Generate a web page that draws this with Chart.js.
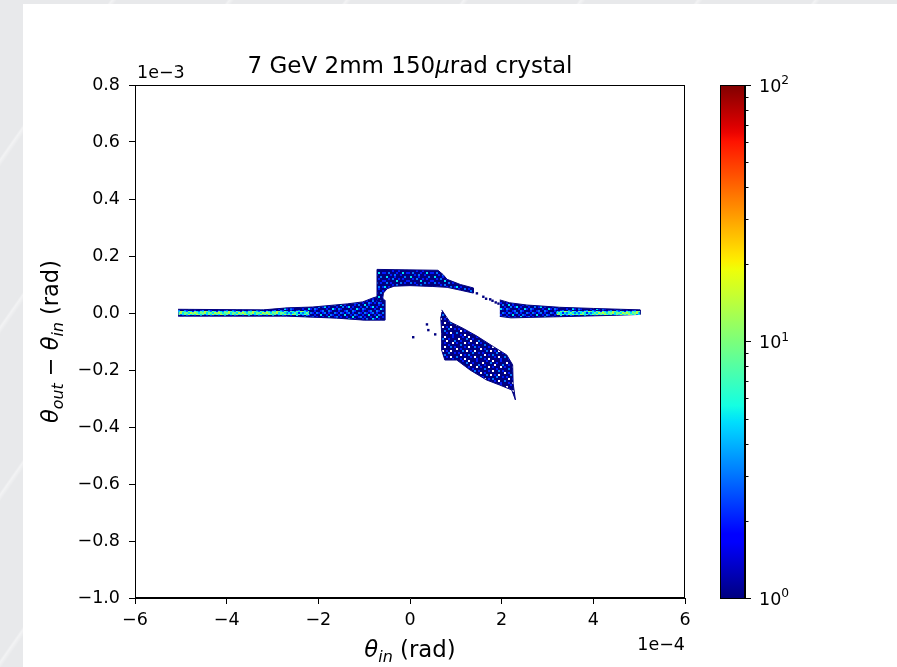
<!DOCTYPE html>
<html><head><meta charset="utf-8">
<script src="https://cdn.jsdelivr.net/npm/chart.js@4.4.1/dist/chart.umd.min.js"></script>
<style>
html,body{margin:0;padding:0;width:897px;height:667px;overflow:hidden;
  background:#e8e9eb repeating-linear-gradient(125deg, rgba(255,255,255,0) 0px, rgba(255,255,255,0) 90px, rgba(255,255,255,0.45) 92px, rgba(255,255,255,0) 96px);}
#paper{position:absolute;left:23px;top:4px;width:874px;height:663px;background:#fff;}
canvas{position:absolute;left:0;top:0;}
</style></head><body>
<div id="paper"></div>
<canvas id="main" width="897" height="667"></canvas>
<canvas id="cbar" width="897" height="667"></canvas>
<script>
// ---- axis ticks (x in units of 1e-4 rad, y in units of 1e-3 rad) ----
const xTicks = [-6, -4, -2, 0, 2, 4, 6];
const yTicks = [-1.0, -0.8, -0.6, -0.4, -0.2, 0.0, 0.2, 0.4, 0.6, 0.8];
const cbarTicks = [1, 10, 100];
const cbarExponents = ['0', '1', '2'];
const cbarMinor = [2,3,4,5,6,7,8,9,20,30,40,50,60,70,80,90];

// ---- occupied regions of the 2D histogram (outline points) ----
// left band (amorphous, theta_in < 0)
const leftBandX = [-5.06, -3.20, -2.68, -2.12, -1.37, -1.03, -0.81, -0.66, -0.55, -0.55, -1.00, -1.60, -2.70, -5.06];
const leftBandY = [ 0.013, 0.011, 0.018, 0.021, 0.032, 0.039, 0.053, 0.060, 0.045, -0.025, -0.025, -0.018, -0.011, -0.011];
// channeled block + left strip + tail towards the right band
const humpX = [-0.72, -0.72, 0.61, 0.72, 0.81, 1.10, 1.38, 1.38, 1.10, 0.81, 0.50, 0.00, -0.35, -0.50, -0.58, -0.60, -0.66];
const humpY = [ 0.040, 0.153, 0.150, 0.135, 0.118, 0.100, 0.088, 0.070, 0.080, 0.090, 0.093, 0.096, 0.094, 0.085, 0.070, 0.045, 0.040];
// right band (amorphous, theta_in > 0)
const rightBandX = [1.96, 2.17, 2.55, 3.27, 4.00, 5.02, 5.02, 4.50, 3.27, 2.20, 1.96];
const rightBandY = [0.046, 0.036, 0.028, 0.020, 0.016, 0.011, -0.005, -0.008, -0.013, -0.017, -0.012];
// blob below (theta_in 0.7 .. 2.3)
const blobX = [0.69, 0.87, 1.16, 1.46, 1.82, 2.11, 2.24, 2.25, 2.30, 2.22, 1.96, 1.67, 1.31, 1.02, 0.76, 0.69, 0.69, 0.67];
const blobY = [0.011, -0.031, -0.054, -0.081, -0.118, -0.147, -0.182, -0.247, -0.305, -0.270, -0.253, -0.235, -0.200, -0.165, -0.165, -0.130, -0.071, -0.013];
// dense ridges (higher counts) along theta_out - theta_in = 0
const ridgeLeftX = [-5.05, -2.2];
const ridgeLeftY = [0.0, 0.0];
const coreLeftX = [-5.05, -2.7];
const coreLeftY = [0.0, 0.0];
const ridgeRightX = [3.2, 5.02];
const ridgeRightY = [0.0, 0.0];
const coreRightX = [4.1, 5.0];
const coreRightY = [0.0, 0.0];
// isolated single-count bins
const dotsX = [0.07, 0.37, 0.40, 0.55, 1.46, 1.60, 1.66, 1.75, 1.80, 1.87, 1.93];
const dotsY = [-0.085, -0.040, -0.060, -0.075, 0.069, 0.057, 0.050, 0.048, 0.043, 0.037, 0.033];

const zip = (xs, ys) => xs.map((x, i) => ({x, y: ys[i]}));
const FONT = '"DejaVu Sans", "Liberation Sans", sans-serif';

// jet colormap (style only)
function jet(t){
  const seg = (pts) => { for (let i=1;i<pts.length;i++){ if (t<=pts[i][0]) { const [a,va]=pts[i-1],[b,vb]=pts[i]; return va+(vb-va)*(t-a)/(b-a);} } return pts[pts.length-1][1]; };
  const r = seg([[0,0],[0.35,0],[0.66,1],[0.89,1],[1,0.5]]);
  const g = seg([[0,0],[0.125,0],[0.375,1],[0.64,1],[0.91,0],[1,0]]);
  const b = seg([[0,0.5],[0.11,1],[0.34,1],[0.65,0],[1,0]]);
  return `rgb(${Math.round(r*255)},${Math.round(g*255)},${Math.round(b*255)})`;
}
const cnt = c => jet(Math.log10(c)/2);

// fill textures imitating the histogram's bin speckle (styling only)
const PAL = { N: cnt(1), B: cnt(2), L: cnt(3), C: cnt(5), G: cnt(9), Y: cnt(14), W: 'rgba(255,255,255,0)' };
function texture(rows, cell){
  const c = document.createElement('canvas');
  c.width = rows[0].length * cell; c.height = rows.length * cell;
  const g = c.getContext('2d');
  rows.forEach((r, j) => [...r].forEach((ch, i) => { g.fillStyle = PAL[ch]; g.fillRect(i*cell, j*cell, cell, cell); }));
  return g.createPattern(c, 'repeat');
}
const blobTex = texture([
  "NNNBNNWNNNBN","NWNNNLNNBNNN","NNBNNNNWNNNL","BNNNWNBNNNWN","NNLNNNNNBNNN","NNNNBNWNNLNB",
  "WNBNNNNNNNNN","NNNLNWNBNWNN","NBNNNNNNLNNB","NNWNBNLNNNNN","LNNNNNNBNWNN","NNBNWNNNNNBN"], 2);
const blockTex = texture([
  "NBNNLNBNNBNN","NNBNNNNLNNNB","LNNBNCNNBNLN","NNNNBNNBNNNN","BNLNNNBNNCNB","NNNBNLNNBNNN",
  "NCNNNBNNNNLN","NNBNLNNBNBNN","BNNNNNCNNNNB","NLNBNNNNLNBN","NNNNBNLNNNNN","CNBNNNNBNLNB"], 2);
const bandTex = texture([
  "BNLBNBLNBNNL","NBNNCNNBNLBN","LNBNNBNNCNNB","NBNLNNCBNBNN","BNNBNLNNBNLN","NLBNBNBNNCNB",
  "CNNBNNLNBNNN","NBNNLBNBNLBN","NNCNBNNNNBNL","BNNLNBCNBNNN","NLBNNNNBNNCB","NBNNBLNNLBNN"], 2);
const ridgeTex = texture(["CLCGCBCLCGCL","GCYGCGLCGCYC","LCGCLCGCYCLG","BGCLGCYGCLGC"], 2);
const coreTex = texture(["GYGCGGYCGGCY","YGCGYGGGCYGG"], 2);

function poly(xs, ys, fillStyle){
  return {type:'scatter', data: zip(xs, ys), showLine:true, fill:'shape', backgroundColor: fillStyle,
          borderColor: cnt(1), borderWidth: 1, pointRadius: 0, tension: 0};
}
function ridge(xs, ys, stroke, w){
  return {type:'scatter', data: zip(xs, ys), showLine:true, fill:false, borderColor: stroke,
          borderWidth: w, borderCapStyle:'butt', pointRadius: 0, tension: 0};
}

function drawParts(ctx, parts, x, y, align, size){
  const fonts = parts.map(p => `${p.italic ? 'italic ' : ''}${(p.sub || p.sup) ? size*0.7 : size}px ${FONT}`);
  let total = 0;
  const widths = parts.map((p,i) => { ctx.font = fonts[i]; const w = ctx.measureText(p.t).width; total += w; return w; });
  let cx = align === 'center' ? x - total/2 : (align === 'right' ? x - total : x);
  ctx.textAlign = 'left'; ctx.textBaseline = 'alphabetic'; ctx.fillStyle = '#000';
  parts.forEach((p,i) => {
    ctx.font = fonts[i];
    ctx.fillText(p.t, cx, y + (p.sub ? size*0.22 : 0) - (p.sup ? size*0.42 : 0));
    cx += widths[i];
  });
}

const decorPlugin = {
  id: 'decor',
  afterDraw(chart){
    const {ctx, chartArea: a} = chart;
    ctx.save();
    ctx.strokeStyle = '#000'; ctx.lineWidth = 1;
    ctx.strokeRect(a.left + 0.5, a.top + 0.5, a.right - a.left - 1, a.bottom - a.top - 1);
    const cxm = (a.left + a.right)/2;
    drawParts(ctx, [{t:'7 GeV 2mm 150'}, {t:'\u03BC', italic:true}, {t:'rad crystal'}], cxm, 73, 'center', 23);
    drawParts(ctx, [{t:'\u03B8', italic:true}, {t:'in', italic:true, sub:true}, {t:' (rad)'}], cxm, 657, 'center', 22.8);
    drawParts(ctx, [{t:'1e\u22123'}], a.left + 2, 78, 'left', 17.5);
    drawParts(ctx, [{t:'1e\u22124'}], a.right, 650, 'right', 17.5);
    ctx.translate(58, (a.top + a.bottom)/2);
    ctx.rotate(-Math.PI/2);
    drawParts(ctx, [{t:'\u03B8', italic:true}, {t:'out', italic:true, sub:true}, {t:' \u2212 '},
                    {t:'\u03B8', italic:true}, {t:'in', italic:true, sub:true}, {t:' (rad)'}], 0, 0, 'center', 22.5);
    ctx.restore();
  }
};

const fmt = (v, d) => { if (Math.abs(v) < 1e-9) v = 0; const s = Math.abs(v).toFixed(d); return v < 0 ? '\u2212' + s : s; };

new Chart(document.getElementById('main'), {
  type: 'scatter',
  data: { datasets: [
    // first in list = drawn on top
    {type:'scatter', data: zip(dotsX, dotsY), pointStyle:'rect', pointRadius:1.7, pointBorderWidth:0,
     backgroundColor: cnt(1), borderColor: cnt(1), showLine:false},
    ridge(coreLeftX, coreLeftY, coreTex, 2),
    ridge(coreRightX, coreRightY, coreTex, 2),
    ridge(ridgeLeftX, ridgeLeftY, ridgeTex, 4),
    ridge(ridgeRightX, ridgeRightY, ridgeTex, 4),
    poly(blobX, blobY, blobTex),
    poly(rightBandX, rightBandY, bandTex),
    poly(humpX, humpY, blockTex),
    poly(leftBandX, leftBandY, bandTex)
  ]},
  options: {
    responsive: false, animation: false,
    layout: { padding: { left: 0, right: 212, top: 85, bottom: 0 } },
    plugins: { legend: {display:false}, tooltip: {enabled:false}, title:{display:false} },
    scales: {
      x: { type:'linear', min:-6, max:6,
        afterBuildTicks: s => { s.ticks = xTicks.map(v => ({value:v})); },
        afterFit: s => { s.height = 69; s.paddingLeft = 0; s.paddingRight = 0; },
        grid: { drawOnChartArea:false, drawTicks:true, tickLength:6, color:'#000', tickWidth:1 },
        border: { display:true, color:'#000', width:1 },
        ticks: { color:'#000', font:{family:FONT, size:17.5}, padding:6, maxRotation:0, autoSkip:false,
                 callback: v => fmt(v, 0) } },
      y: { type:'linear', min:-1.0, max:0.8,
        afterBuildTicks: s => { s.ticks = yTicks.map(v => ({value:v})); },
        afterFit: s => { s.width = 135; s.paddingTop = 0; s.paddingBottom = 0; },
        grid: { drawOnChartArea:false, drawTicks:true, tickLength:6, color:'#000', tickWidth:1 },
        border: { display:true, color:'#000', width:1 },
        ticks: { color:'#000', font:{family:FONT, size:17.5}, padding:9, autoSkip:false,
                 callback: v => fmt(v, 1) } }
    }
  },
  plugins: [decorPlugin]
});

const cbarPlugin = {
  id: 'cbarDecor',
  afterDraw(chart){
    const {ctx, chartArea: a} = chart;
    const sc = chart.scales.y;
    ctx.save();
    ctx.strokeStyle = '#000'; ctx.lineWidth = 1;
    ctx.strokeRect(a.left + 0.5, a.top + 0.5, a.right - a.left - 1, a.bottom - a.top);
    ctx.beginPath();
    cbarMinor.forEach(v => { const y = Math.round(sc.getPixelForValue(v)) + 0.5; ctx.moveTo(a.right, y); ctx.lineTo(a.right + 3.5, y); });
    ctx.stroke();
    cbarTicks.forEach((v, i) => {
      const y = sc.getPixelForValue(v);
      drawParts(ctx, [{t:'10'}, {t:cbarExponents[i], sup:true}], a.right + 14, y + 6.5, 'left', 17.5);
    });
    ctx.restore();
  }
};

new Chart(document.getElementById('cbar'), {
  type: 'bar',
  data: { labels: ['counts'], datasets: [{
    data: [[1, 100]], borderWidth: 0, barPercentage: 1, categoryPercentage: 1,
    backgroundColor: (c) => {
      const {chartArea, ctx} = c.chart;
      if (!chartArea) return cnt(1);
      const g = ctx.createLinearGradient(0, chartArea.bottom, 0, chartArea.top);
      for (let i = 0; i <= 64; i++) g.addColorStop(i/64, jet(i/64));
      return g;
    }
  }]},
  options: {
    responsive: false, animation: false,
    layout: { padding: { left: 720, right: 92, top: 85, bottom: 69 } },
    plugins: { legend: {display:false}, tooltip: {enabled:false} },
    scales: {
      x: { display: false },
      y: { type:'logarithmic', position:'right', min:1, max:100,
        afterBuildTicks: s => { s.ticks = cbarTicks.map(v => ({value:v, major:true})); },
        afterFit: s => { s.width = 60; s.paddingTop = 0; s.paddingBottom = 0; },
        grid: { drawOnChartArea:false, drawTicks:true, tickLength:6, color:'#000' },
        border: { display:true, color:'#000', width:1 },
        ticks: { display:false } }
    }
  },
  plugins: [cbarPlugin]
});
</script></body></html>
